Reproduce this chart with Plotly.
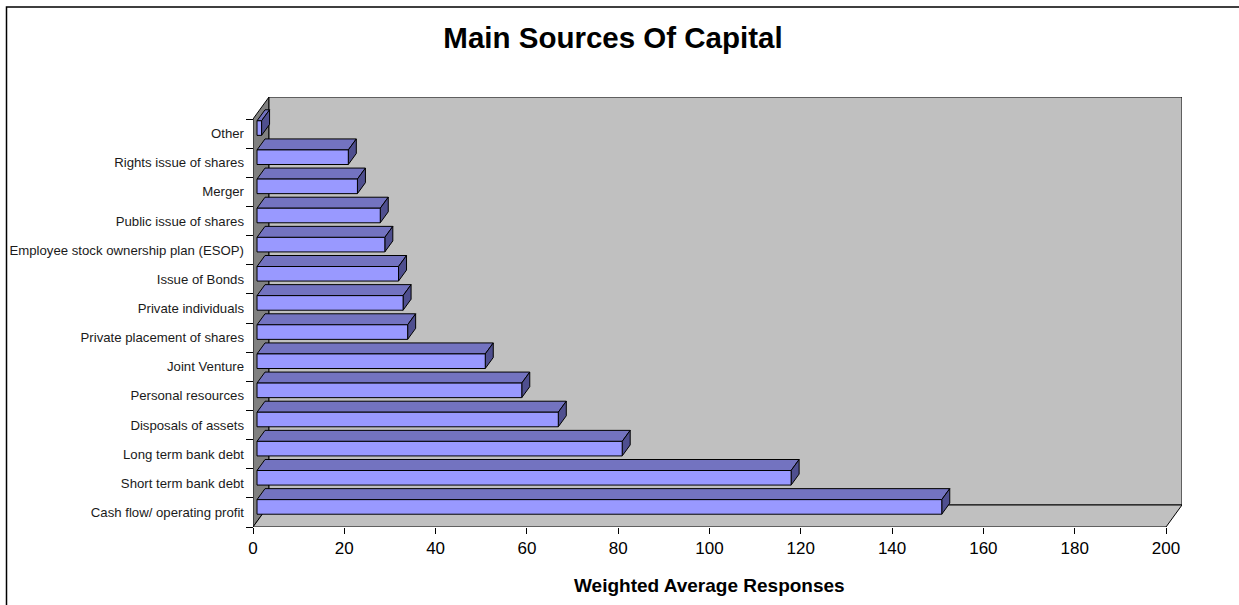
import plotly.graph_objects as go

# ---- data -------------------------------------------------------------
CATEGORIES = [
    "Cash flow/ operating profit",
    "Short term bank debt",
    "Long term bank debt",
    "Disposals of assets",
    "Personal resources",
    "Joint Venture",
    "Private placement of shares",
    "Private individuals",
    "Issue of Bonds",
    "Employee stock ownership plan (ESOP)",
    "Public issue of shares",
    "Merger",
    "Rights issue of shares",
    "Other",
]
VALUES = [150, 117, 80, 66, 58, 50, 33, 32, 31, 28, 27, 22, 20, 1]
X_TICKS = list(range(0, 201, 20))
X_MAX = 200

# ---- layout constants -------------------------------------------------
W, H = 1239, 605
M_L, M_R, M_T, M_B = 253, 57, 97, 78
PLOT_W = W - M_L - M_R
PLOT_H = H - M_T - M_B
DEPTH_PX_X, DEPTH_PX_Y = 16, 22          # oblique depth offset of the box
N = len(CATEGORIES)
# depth offset expressed in data units
DX = DEPTH_PX_X * X_MAX / (PLOT_W - DEPTH_PX_X)
DY = DEPTH_PX_Y * N / (PLOT_H - DEPTH_PX_Y)

FONT = "Arial, Liberation Sans, sans-serif"
FRONT, TOP, SIDE = "#9999FF", "#7373C0", "#4F4F8F"
WALL, LEFT_WALL = "#C0C0C0", "#808080"


def proj(x, y, d):
    """Oblique projection: depth fraction d shifts up and to the right."""
    return x + d * DX, y + d * DY


def polys(pts_list):
    xs, ys = [], []
    for pts in pts_list:
        for (x, y, d) in pts + [pts[0]]:
            px, py = proj(x, y, d)
            xs.append(px)
            ys.append(py)
        xs.append(None)
        ys.append(None)
    return xs, ys


def face(pts_list, color, name):
    xs, ys = polys(pts_list)
    return go.Scatter(x=xs, y=ys, mode="lines", fill="toself", fillcolor=color,
                      line=dict(color="#000000", width=1), hoverinfo="skip",
                      showlegend=False, name=name)


fig = go.Figure()

# box: left wall, back wall, floor
fig.add_trace(face([[(0, 0, 0), (0, 0, 1), (0, N, 1), (0, N, 0)]], LEFT_WALL, "left wall"))
fig.add_trace(face([[(0, 0, 1), (X_MAX, 0, 1), (X_MAX, N, 1), (0, N, 1)]], WALL, "back wall"))
fig.add_trace(face([[(0, 0, 0), (X_MAX, 0, 0), (X_MAX, 0, 1), (0, 0, 1)]], WALL, "floor"))

# bars, drawn from the top category down to the front one
D0, D1 = 0.25, 0.75
for i in range(N - 1, -1, -1):
    v = VALUES[i]
    y0, y1 = i + 0.25, i + 0.75
    fig.add_trace(face([[(0, y1, D0), (v, y1, D0), (v, y1, D1), (0, y1, D1)]], TOP, CATEGORIES[i]))
    fig.add_trace(face([[(v, y0, D0), (v, y0, D1), (v, y1, D1), (v, y1, D0)]], SIDE, CATEGORIES[i]))
    fig.add_trace(face([[(0, y0, D0), (v, y0, D0), (v, y1, D0), (0, y1, D0)]], FRONT, CATEGORIES[i]))

# invisible trace carrying the category axis
fig.add_trace(go.Scatter(x=[0] * N, y=CATEGORIES, yaxis="y2", mode="markers",
                         marker=dict(opacity=0), hoverinfo="skip", showlegend=False))

fig.update_layout(
    width=W, height=H,
    margin=dict(l=M_L, r=M_R, t=M_T, b=M_B, pad=0, autoexpand=False),
    paper_bgcolor="white", plot_bgcolor="white",
    font=dict(family=FONT, color="#000000"),
    title=dict(text="<b>Main Sources Of Capital</b>", x=613 / W, xref="container",
               y=1 - 38 / H, yref="container", xanchor="center", yanchor="middle",
               font=dict(size=29.5, family=FONT, color="#000000")),
    xaxis=dict(range=[0, X_MAX + DX], tickmode="array", tickvals=X_TICKS,
               ticks="outside", ticklen=6, tickcolor="#000000", showline=False,
               showgrid=False, zeroline=False, automargin=False,
               tickfont=dict(size=17, family=FONT)),
    yaxis=dict(range=[0, N + DY], visible=False, fixedrange=True),
    yaxis2=dict(overlaying="y", anchor="free", position=0, side="left",
                type="category", categoryorder="array", categoryarray=CATEGORIES,
                range=[-0.5, N - 0.5 + DY], tickson="boundaries", ticks="outside",
                ticklen=7, tickcolor="#000000", showgrid=False, showline=False,
                zeroline=False, automargin=False, ticklabelstandoff=9,
                tickfont=dict(size=13.2, family=FONT, color="#1a1a1a")),
    annotations=[dict(text="<b>Weighted Average Responses</b>", x=X_MAX / 2, xref="x",
                      y=-(585 - (H - M_B)) / PLOT_H, yref="paper",
                      xanchor="center", yanchor="middle", showarrow=False,
                      font=dict(size=19, family=FONT, color="#000000"))],
    shapes=[dict(type="rect", xref="paper", yref="paper",
                 x0=(6.5 - M_L) / PLOT_W, x1=(W + 10 - M_L) / PLOT_W,
                 y0=-(M_B + 10) / PLOT_H, y1=1 + (M_T - 7) / PLOT_H,
                 line=dict(color="#000000", width=1.5), layer="below")],
)

fig.write_html("out.html")
